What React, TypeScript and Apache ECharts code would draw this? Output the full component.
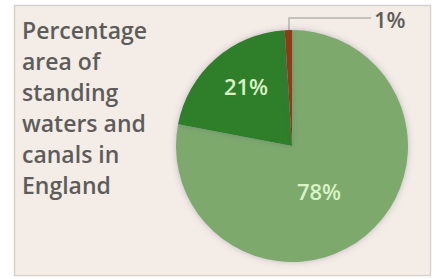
import React, { useEffect, useRef } from "react";
import * as echarts from "echarts";

const categories = ["Other", "Canals", "Standing waters"];
const shareLabels = ["78%", "21%", "1%"];
const values = [78, 21, 1];
const sliceColors = ["#7daa6c", "#2f7e29", "#8e3a12"];
const titleLines = ["Percentage", "area of", "standing", "waters and", "canals in", "England"];

export default function App() {
  const ref = useRef<HTMLDivElement>(null);
  useEffect(() => {
    if (!ref.current) return;
    const chart = echarts.init(ref.current, null, { renderer: "svg" });
    const labelPos: Record<number, any> = {
      0: { x: 319, y: 191, align: "center", verticalAlign: "middle" },
      1: { x: 246, y: 86, align: "center", verticalAlign: "middle" },
      2: {
        x: 374,
        y: 19,
        align: "left",
        verticalAlign: "middle",
        labelLinePoints: [
          [289, 31],
          [289, 18],
          [371, 18],
        ],
      },
    };
    chart.setOption({
      animation: false,
      backgroundColor: "#ffffff",
      graphic: [
        {
          type: "rect",
          z: -10,
          shape: { x: 14.5, y: 5.5, width: 416, height: 270 },
          style: { fill: "#f4ece6", stroke: "#d6d2cf", lineWidth: 1.5 },
        },
        {
          type: "text",
          left: 22,
          top: 14,
          style: {
            text: titleLines.join("\n"),
            font: '600 23px "Open Sans", sans-serif',
            lineHeight: 31,
            fill: "#5e5c5a",
          },
        },
      ],
      series: [
        {
          type: "pie",
          center: [292, 146],
          radius: [0, 116],
          startAngle: 90,
          clockwise: true,
          avoidLabelOverlap: false,
          itemStyle: {
            shadowBlur: 6,
            shadowColor: "rgba(90,90,120,0.35)",
          },
          label: {
            show: true,
            position: "inside",
            fontFamily: '"Open Sans", sans-serif',
            fontWeight: 600,
            fontSize: 22,
            color: "#daf3c6",
          },
          labelLayout: (params: any) => labelPos[params.dataIndex],
          data: values.map((v, i) => ({
            name: categories[i],
            value: v,
            itemStyle: { color: sliceColors[i] },
            label:
              i === 2
                ? { position: "outside", formatter: shareLabels[i], color: "#5e5c5a" }
                : { formatter: shareLabels[i] },
            labelLine:
              i === 2
                ? { show: true, lineStyle: { color: "#b5b2af", width: 1.5 } }
                : { show: false },
          })),
        },
      ],
    });
    return () => chart.dispose();
  }, []);
  return (
    <div
      ref={ref}
      style={{ position: "fixed", left: 0, top: 0, width: 438, height: 279 }}
    />
  );
}
